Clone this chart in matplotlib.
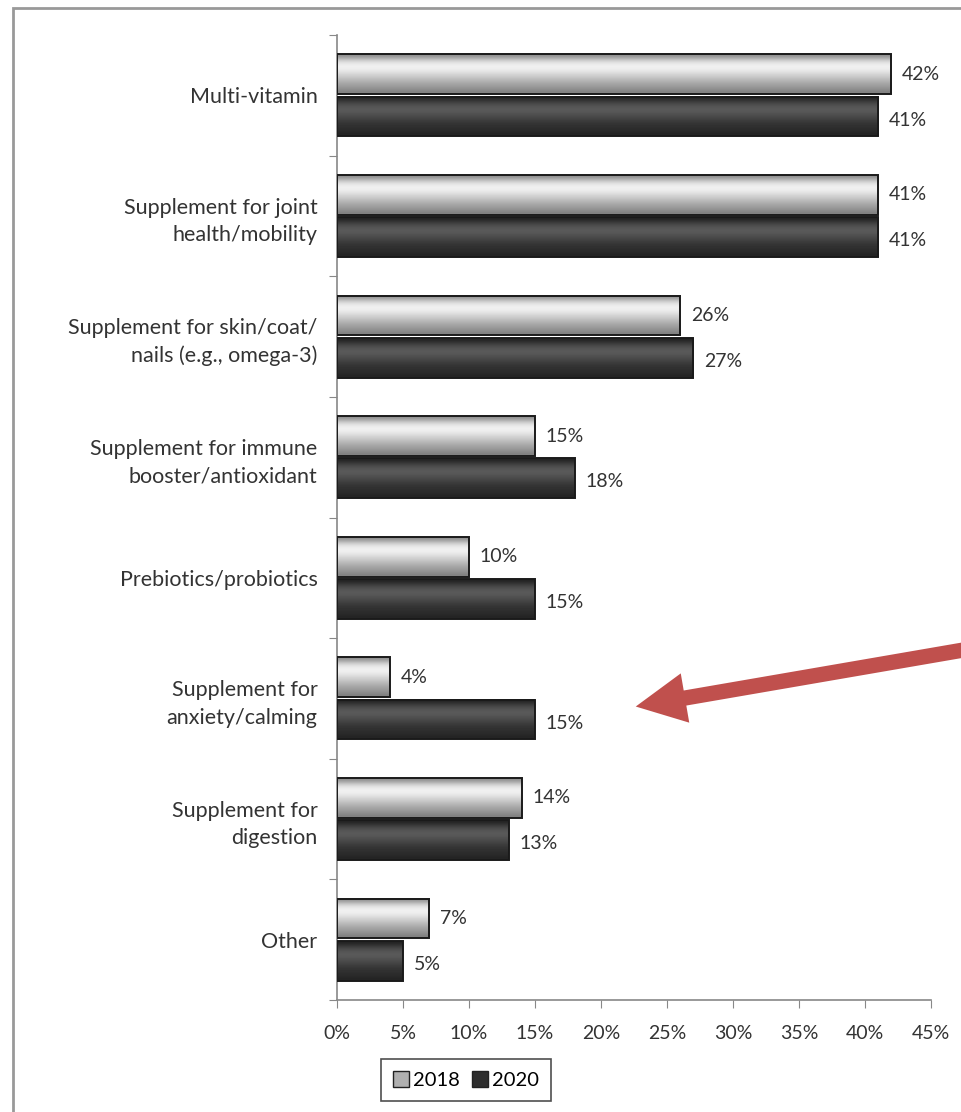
import matplotlib
matplotlib.use("Agg")
import matplotlib.pyplot as plt
import numpy as np
from matplotlib.patches import Rectangle, Patch

plt.rcParams['font.family'] = ['Lato', 'DejaVu Sans']

categories = ["Multi-vitamin",
              "Supplement for joint\nhealth/mobility",
              "Supplement for skin/coat/\nnails (e.g., omega-3)",
              "Supplement for immune\nbooster/antioxidant",
              "Prebiotics/probiotics",
              "Supplement for\nanxiety/calming",
              "Supplement for\ndigestion",
              "Other"]
vals_2018 = [42, 41, 26, 15, 10, 4, 14, 7]
vals_2020 = [41, 41, 27, 18, 15, 15, 13, 5]
series = ["2018", "2020"]
xticks = [0, 5, 10, 15, 20, 25, 30, 35, 40, 45]

# vertical shading for the "glossy" bars (top -> bottom)
light_grad = np.array([0.55, 0.80, 0.93, 0.95, 0.88, 0.80, 0.72, 0.64, 0.58, 0.50])
dark_grad = np.array([0.13, 0.25, 0.33, 0.36, 0.32, 0.27, 0.22, 0.19, 0.17, 0.14])

fig = plt.figure(figsize=(9.61, 11.12), dpi=100)
ax = fig.add_axes([337/961, 1 - 1000/1112, 594/961, 965/1112])

n = len(categories)
bar_h = 0.33
gap = 0.02

def glossy_bar(y0, val, grad):
    img = grad.reshape(-1, 1)
    ax.imshow(img, cmap="gray", vmin=0, vmax=1, aspect="auto",
              extent=[0, val, y0 + bar_h, y0], interpolation="bicubic", zorder=2)
    ax.add_patch(Rectangle((0, y0), val, bar_h, fill=False,
                           edgecolor="#1a1a1a", linewidth=1.4, zorder=3))

for i in range(n):
    c = i + 0.5
    y18 = c - gap / 2 - bar_h
    y20 = c + gap / 2
    glossy_bar(y18, vals_2018[i], light_grad)
    glossy_bar(y20, vals_2020[i], dark_grad)
    ax.text(vals_2018[i] + 0.8, y18 + bar_h / 2, f"{vals_2018[i]}%",
            va="center", ha="left", fontsize=14, color="#333333")
    ax.text(vals_2020[i] + 0.8, y20 + bar_h / 2 + 0.03, f"{vals_2020[i]}%",
            va="center", ha="left", fontsize=14, color="#333333")

ax.set_xlim(0, 45)
ax.set_ylim(n, 0)
ax.set_xticks(xticks)
ax.set_xticklabels([f"{t}%" for t in xticks], fontsize=14, color="#333333")
ax.set_yticks(np.arange(n + 1))
ax.set_yticklabels([])
ax.set_yticks(np.arange(n) + 0.5, minor=True)
ax.set_yticklabels(categories, minor=True, fontsize=15.5, color="#333333",
                   linespacing=1.45)
ax.tick_params(axis="y", which="minor", length=0, pad=14)
ax.tick_params(axis="y", which="major", direction="out", length=6, color="#888888")
ax.tick_params(axis="x", direction="out", length=6, color="#888888", pad=12)
for s in ["top", "right"]:
    ax.spines[s].set_visible(False)
for s in ["left", "bottom"]:
    ax.spines[s].set_color("#888888")
    ax.spines[s].set_linewidth(1.2)

handles = [Patch(facecolor="#b0b0b0", edgecolor="#222222", label=series[0]),
           Patch(facecolor="#2e2e2e", edgecolor="#222222", label=series[1])]
leg = fig.legend(handles=handles, loc="center", bbox_to_anchor=(466/961, 1 - 1080/1112),
                 ncol=2, fontsize=14.5, frameon=True, fancybox=False,
                 handlelength=0.8, handleheight=0.8, handletextpad=0.2,
                 columnspacing=0.6, borderpad=0.6, borderaxespad=0)
leg.get_frame().set_edgecolor("#222222")
leg.get_frame().set_linewidth(1.2)

# outer frame (cut at right/bottom)
fig.add_artist(Rectangle((13/961, -0.05), 1.0, 1 - 8/1112 + 0.05,
                         transform=fig.transFigure, fill=False,
                         edgecolor="#999999", linewidth=2))

# red arrow
fig.add_artist(plt.Annotation("", xy=(633/961, 1 - 707/1112),
                              xytext=(975/961, 1 - 648/1112),
                              xycoords="figure fraction", textcoords="figure fraction",
                              arrowprops=dict(arrowstyle="simple,head_length=1.8,head_width=1.8,tail_width=0.55",
                                              mutation_scale=20, facecolor="#c0504d",
                                              edgecolor="none")))

fig.savefig("out.png", dpi=100)
